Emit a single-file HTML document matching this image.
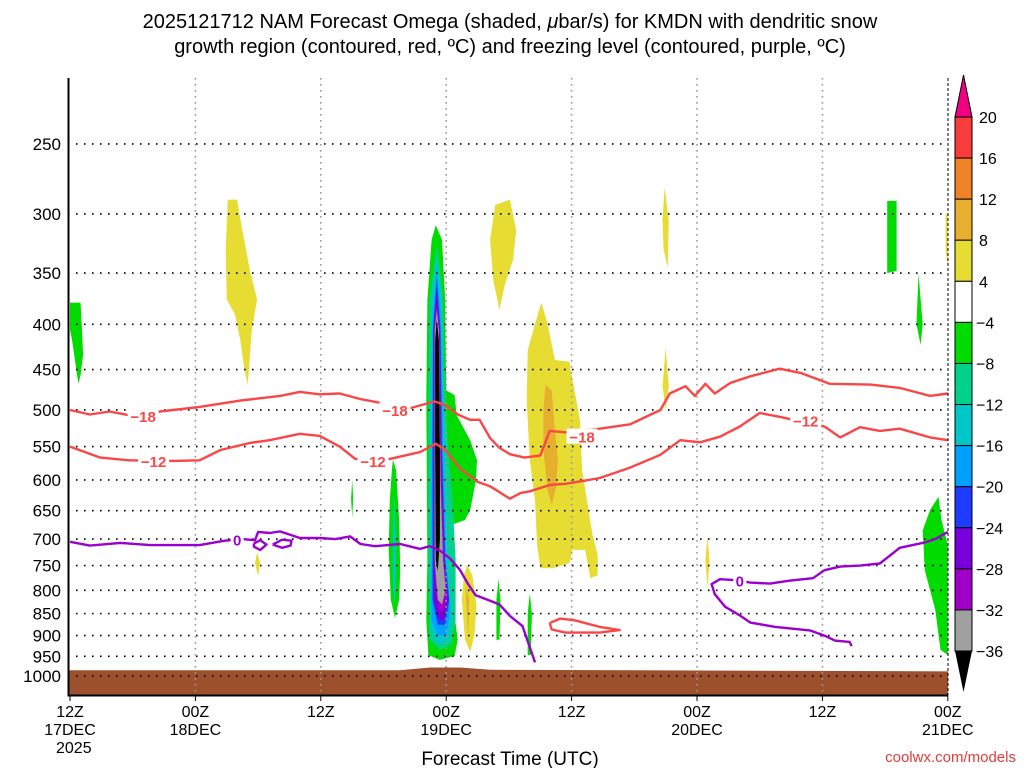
<!DOCTYPE html>
<html><head><meta charset="utf-8"><style>
html,body{margin:0;padding:0;background:#fff;}
svg{display:block;font-family:"Liberation Sans",sans-serif;}
</style></head><body>
<svg id="c" width="1024" height="768" viewBox="0 0 1024 768">
<text x="510" y="28" text-anchor="middle" font-size="20">2025121712 NAM Forecast Omega (shaded, <tspan font-style="italic">μ</tspan>bar/s) for KMDN with dendritic snow</text>
<text x="510" y="53" text-anchor="middle" font-size="20">growth region (contoured, red, ºC) and freezing level (contoured, purple, ºC)</text>
<g id="plot"></g>
<text x="510" y="765" text-anchor="middle" font-size="19">Forecast Time (UTC)</text>
<text x="1016" y="762" text-anchor="end" font-size="15" fill="#e03c3c">coolwx.com/models</text>
</svg>
<script>
const NS="http://www.w3.org/2000/svg";
const pLevels=[250,300,350,400,450,500,550,600,650,700,750,800,850,900,950,1000];
const xTicks=[0,12,24,36,48,60,72,84];
const xTickLabels=[["12Z","17DEC","2025"],["00Z","18DEC"],["12Z"],["00Z","19DEC"],["12Z"],["00Z","20DEC"],["12Z"],["00Z","21DEC"]];
const levelBounds=[20,16,12,8,4,-4,-8,-12,-16,-20,-24,-28,-32,-36];
const levelColors=["#fa3c3c","#f08228","#e6af2d","#e6dc32","#ffffff","#00dc00","#00d28c","#00c8c8","#00a0ff","#1e3cff","#7800dc","#a000c8","#a0a0a0"];
// shaded omega regions: [colorIndex, [[hour,pressure],...]]
const blobLeftGreen=[5,[[0,378],[1,378],[1.15,406],[1.25,433],[1,457],[0.8,467],[0.6,450],[0.2,417],[0,406]]];
const blobYellowA=[3,[[15.1,289],[16,289],[16.3,304],[17.2,347],[17.9,375],[17.4,406],[17.2,438],[17,468],[16.7,450],[16.3,417],[15.8,390],[15,375],[14.9,329]]];
const blobYellowB=[3,[[17.9,725],[18.2,745],[18,770],[17.7,745]]];
const blobGreenThin=[5,[[27,600],[27.1,630],[27,662],[26.9,630]]];
const blobGreenC=[5,[[30.9,569],[31.2,584],[31.5,666],[31.6,759],[31.5,820],[31.1,860],[30.7,820],[30.5,720],[30.6,632],[30.8,584]]];
const blobGreenCin=[7,[[31.0,620],[31.2,700],[31.2,800],[31.0,830],[30.9,760],[30.9,680]]];
const mainGreen=[5,[[35.0,309],[35.6,321],[35.9,375],[36.0,475],[36.8,481],[37.0,507],[38.3,541],[38.95,570],[38.85,600],[38.3,649],[37.8,666],[36.4,675],[36.2,739],[36.6,820],[37.1,910],[36.8,949],[35.4,959],[34.3,947],[34.1,864],[34.2,739],[34.1,487],[34.2,375],[34.6,321]]];
const mainTeal=[6,[[35.1,325],[35.7,375],[35.9,487],[36.2,555],[36.6,632],[36.9,739],[36.9,864],[36.5,922],[35.4,934],[34.4,910],[34.3,739],[34.3,487],[34.4,375]]];
const mainCyan=[7,[[35.1,335],[35.6,375],[35.8,487],[36.0,632],[36.3,769],[36.6,864],[36.2,910],[35.2,922],[34.5,887],[34.5,739],[34.5,487],[34.6,375]]];
const mainLBlue=[8,[[35.1,345],[35.5,395],[35.7,555],[36.0,739],[36.4,846],[36.0,899],[35.2,899],[34.6,864],[34.6,632],[34.7,395]]];
const mainBlue=[9,[[35.1,355],[35.45,406],[35.6,555],[35.9,739],[36.3,820],[35.9,875],[35.2,875],[34.7,820],[34.7,555],[34.75,406]]];
const mainPurple=[10,[[35.1,365],[35.4,406],[35.55,555],[35.8,739],[36.2,820],[35.8,864],[35.3,864],[34.8,820],[34.8,555],[34.8,406]]];
const mainMagenta=[11,[[35.1,372],[35.35,417],[35.5,555],[35.75,739],[36.1,820],[35.7,846],[35.3,846],[34.9,779],[34.85,555],[34.85,417]]];
const mainGray=[12,[[35.1,385],[35.3,406],[35.45,600],[35.7,739],[35.95,799],[35.6,830],[35.2,820],[34.9,739],[34.9,541],[34.9,406]]];
const mainBlack=[13,[[35.1,395],[35.3,417],[35.4,555],[35.4,700],[35.2,760],[35.0,740],[34.95,555],[34.95,417]]];
const blobYellowD=[3,[[40.7,293],[42.1,289],[42.7,313],[42.4,338],[41.6,361],[41.1,385],[40.5,356],[40.2,321]]];
const blobYellowE=[3,[[45.1,378],[45.7,400],[46.4,439],[47.8,441],[48,456],[48.8,514],[49,585],[50,692],[50.5,730],[50.5,769],[49.8,775],[49.3,720],[48.1,720],[47.8,745],[46.2,755],[45,755],[44.7,711],[44.5,632],[44,570],[43.7,487],[43.8,428],[44.5,400]]];
const blobOrangeE=[2,[[45.5,468],[46.1,475],[46.4,527],[46.7,570],[46.5,613],[46.1,640],[45.7,616],[45.3,555],[45.3,500]]];
const blobYellowF=[3,[[38,749],[38.5,769],[38.9,831],[38.7,899],[38.3,939],[37.8,910],[37.5,820],[37.7,769]]];
const blobOrangeF=[2,[[37.9,789],[38.2,820],[38.1,899],[37.9,820]]];
const blobGreenG=[5,[[41.0,776],[41.2,820],[41.1,910],[40.8,910],[40.8,820]]];
const blobGreenH=[5,[[44.0,806],[44.2,850],[44.1,947],[43.8,947],[43.8,850]]];
const blobYellowI=[3,[[56.9,280],[57.3,305],[57.2,345],[56.8,329],[56.7,305]]];
const blobYellowJ=[3,[[57.0,425],[57.3,470],[57.0,500],[56.7,470]]];
const blobYellowK=[3,[[61.0,695],[61.2,740],[61.0,795],[60.8,740]]];
const blobGreenL=[5,[[78.2,290],[79.1,290],[79.1,348],[78.2,350]]];
const blobGreenM=[5,[[81.2,350],[81.6,400],[81.4,422],[81.0,400]]];
const blobGreenN=[5,[[83.1,627],[83.4,666],[84,711],[84,947],[83.3,934],[82.8,842],[81.8,759],[81.6,684],[82.3,649]]];
const blobYellowO=[3,[[83.8,300],[84,300],[84,345],[83.8,330]]];
// contours: [[hour,pressure],...]
const dgzMinus18=[[0,500],[1.9,506],[3.8,502],[5.7,507],[8.6,502],[12.4,496],[16.3,488],[20.1,482],[22,477],[23.9,480],[25.8,479],[27.8,486],[32.5,498],[34.9,489],[35.9,494],[37.1,506],[38.3,513],[39.2,513],[40.2,538],[41.1,552],[42.1,561],[43.5,566],[45,563],[45.9,528],[47.4,530],[50.7,525],[53.6,519],[56.5,500],[57.4,479],[58.9,470],[59.8,482],[60.8,467],[61.7,479],[63.2,466],[65.1,458],[67.9,449],[69.9,454],[72.7,467],[76.6,468],[79.4,472],[82.3,482],[84,479]];
const dgzMinus12=[[0,550],[2.9,566],[5.7,570],[10,571],[12.4,570],[14.4,555],[17.2,545],[19.1,541],[22,532],[23.9,535],[25.8,550],[27.3,568],[30.6,568],[33.5,558],[35,546],[35.9,555],[37.3,582],[39,603],[40.2,610],[42.1,630],[43.1,621],[44,618],[45.9,608],[47.4,606],[49.3,601],[50.7,597],[53.6,581],[56.5,562],[58.4,541],[60.3,544],[62.2,536],[64.1,522],[66,504],[67.9,509],[72.2,522],[73.7,537],[75.6,523],[77.5,528],[79.4,525],[82.3,537],[84,541]];
const dgzLoop=[[45.9,871],[46.9,861],[48.3,865],[50.7,880],[52.6,887],[50.7,893],[47.4,893],[46.1,886],[45.9,871]];
const frzA=[[0,705],[1.9,712],[4.8,707],[7.7,711],[12.4,711],[14.8,703],[16.5,700],[17.7,702],[18,687],[19.1,689],[20.1,686],[22,698],[23.9,698],[25.4,700],[26.8,695],[27.8,709],[29.2,713],[31.6,709],[33.5,718],[34.4,713],[35.4,721],[36.4,737],[37.3,758],[38.1,787],[38.8,810],[40.2,822],[41.1,830],[42.1,855],[43.3,878],[44.5,965]];
const frzLoop1=[[17.6,708],[18.2,702],[18.8,710],[18.2,720],[17.6,714],[17.6,708]];
const frzLoop2=[[19.4,710],[20.3,701],[21.2,703],[21.1,712],[20.3,716],[19.4,710]];
const frzB=[[74.8,925],[74.6,915],[73.2,912],[72.2,900],[70.8,888],[67.5,880],[65.1,870],[64.1,854],[62.7,835],[61.7,808],[61.4,787],[62.2,777],[63.5,779],[65.1,784],[67,786],[68.9,780],[71.1,775],[72.2,759],[73.7,752],[75.6,750],[77.5,746],[79.4,716],[80.4,712],[81.8,706],[82.8,700],[84,687]];
const labelsRed=[["-18",7,508],["-18",31.1,500],["-18",49,536],["-12",8,571],["-12",29,571],["-12",70.4,514]];
const labelsPurple=[["0",16,701],["0",64.1,780]];

const X0=70,PXH=125.4/12,Y1000=676,K=383.8;
const xs=h=>X0+h*PXH;
const ys=p=>Y1000-K*Math.log(1000/p);
const plot=document.getElementById('plot');
function mk(tag,attrs,parent){const e=document.createElementNS(NS,tag);for(const k in attrs)e.setAttribute(k,attrs[k]);(parent||plot).appendChild(e);return e;}
const pts=a=>a.map(d=>xs(d[0]).toFixed(1)+","+ys(d[1]).toFixed(1)).join(" ");

const g=mk('path',{d:`M68,${ys(985)} L400,${ys(985)} L430,${ys(978)} L460,${ys(978)} L490,${ys(984)} L948,${ys(988)} L948,695 L68,695 Z`,fill:'#9c502c'});



const blobs=[blobLeftGreen,blobYellowA,blobYellowB,blobGreenThin,blobGreenC,blobGreenCin,mainGreen,mainTeal,mainCyan,mainLBlue,mainBlue,mainPurple,mainMagenta,mainGray,mainBlack,blobYellowD,blobYellowE,blobOrangeE,blobYellowF,blobOrangeF,blobGreenG,blobGreenH,blobYellowI,blobYellowJ,blobYellowK,blobGreenL,blobGreenM,blobGreenN,blobYellowO];
blobs.forEach(b=>{
  const col=b[0]===13?'#000':levelColors[b[0]];
  const e=mk('polygon',{points:pts(b[1]),fill:col});
  
  
});

pLevels.forEach(p=>{
  const y=ys(p);
  const l=mk('line',{x1:68,x2:948,y1:y,y2:y,stroke:'#000','stroke-width':1.6,'stroke-dasharray':'1.6 6.4'});
  
  
  const t=mk('text',{x:61,y:y+6,'text-anchor':'end','font-size':17});
  t.textContent=p;
  
  
});
xTicks.forEach((h,i)=>{
  const x=xs(h);
  if(i>0&&i<xTicks.length-1){
    const l=mk('line',{x1:x,x2:x,y1:78,y2:695,stroke:'#999','stroke-width':1.6,'stroke-dasharray':'1.6 4.4'});
    
    
  }
  mk('line',{x1:x,x2:x,y1:695,y2:701,stroke:'#000','stroke-width':1});
  xTickLabels[i].forEach((s,j)=>{
    const t=mk('text',{x:(i===0&&j===2)?x-14:x,y:717+j*18,'text-anchor':(i===0&&j===2)?'start':'middle','font-size':16});
    t.textContent=s;
    
    
  });
});

function line(a,col,name){
  const e=mk('polyline',{points:pts(a),fill:'none',stroke:col,'stroke-width':2.4,'stroke-linejoin':'round'});
  
  
}
line(dgzMinus18,'#fa4646','contour-minus18');
line(dgzMinus12,'#fa4646','contour-minus12');
line(dgzLoop,'#fa4646','contour-minus12-closed');
line(frzA,'#9a00d0','freezing-level-line');
line(frzLoop1,'#9a00d0','freezing-level-loop');
line(frzLoop2,'#9a00d0','freezing-level-loop');
line(frzB,'#9a00d0','freezing-level-line');
function lbl(l,col){
  const x=xs(l[1]),y=ys(l[2]);
  const w=l[0].length*9+4;
  const r=mk('rect',{x:x-w/2,y:y-8,width:w,height:15,fill:'#fff'});
  
  
  const t=mk('text',{x:x,y:y+6,'text-anchor':'middle','font-size':15,'font-weight':'bold',fill:col});
  t.textContent=l[0].replace('-','\u2212');
  
  
}
labelsRed.forEach(l=>lbl(l,'#fa4646'));
labelsPurple.forEach(l=>lbl(l,'#9a00d0'));

const fr=mk('path',{d:'M68.5,78 L68.5,695.5 L948,695.5',fill:'none',stroke:'#000','stroke-width':2});


const rf=mk('line',{x1:948,x2:948,y1:78,y2:695,stroke:'#000','stroke-width':1,'stroke-dasharray':'3 2'});



const CBX=955,CBW=17,CBY=117,CBH=534/13;
const tri=mk('polygon',{points:`${CBX},${CBY} ${CBX+CBW},${CBY} ${CBX+CBW/2},75`,fill:'#f00082',stroke:'#000','stroke-width':1});


levelColors.forEach((c,i)=>{
  const r=mk('rect',{x:CBX,y:CBY+i*CBH,width:CBW,height:CBH,fill:c,stroke:'#000','stroke-width':1});
  
  
});
const tri2=mk('polygon',{points:`${CBX},${CBY+13*CBH} ${CBX+CBW},${CBY+13*CBH} ${CBX+CBW/2},692`,fill:'#000'});


levelBounds.forEach((v,i)=>{
  const t=mk('text',{x:v<0?976:979,y:CBY+i*CBH+6,'font-size':16});
  t.textContent=v<0?'\u2212'+(-v):String(v);
  
  
});
</script>
</body></html>
